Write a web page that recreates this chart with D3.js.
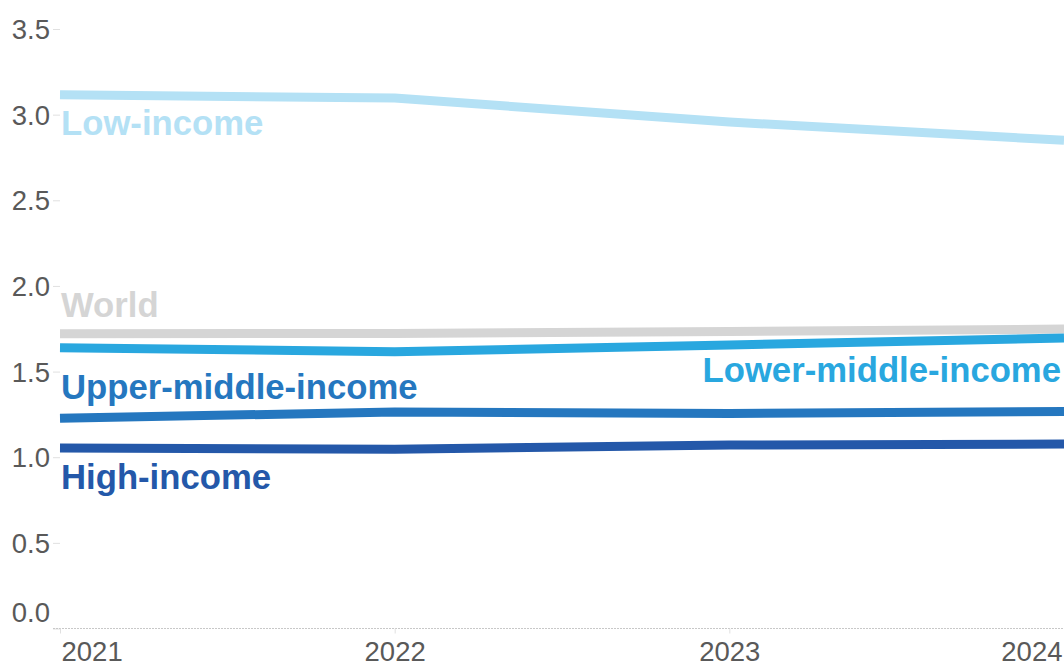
<!DOCTYPE html>
<html>
<head>
<meta charset="utf-8">
<script src="https://cdn.jsdelivr.net/npm/d3@7"></script>
<style>
  html, body { margin: 0; padding: 0; background: #fff; }
  svg { display: block; font-family: "Liberation Sans", Arial, sans-serif; }
</style>
</head>
<body>
<svg id="chart" width="1064" height="666"></svg>
<script>
// Years on the x axis
const years = [2021, 2022, 2023, 2024];

// Series values by income group
const lowIncome = [3.116, 3.097, 2.957, 2.850];
const world = [1.721, 1.722, 1.734, 1.748];
const lowerMiddle = [1.639, 1.616, 1.655, 1.696];
const upperMiddle = [1.227, 1.264, 1.255, 1.267];
const highIncome = [1.054, 1.047, 1.071, 1.077];

// Y axis tick values
const yTicks = [0, 0.5, 1.0, 1.5, 2.0, 2.5, 3.0, 3.5];

const series = [
  { name: "World", values: world, color: "#d5d5d5" },
  { name: "Low-income", values: lowIncome, color: "#b4e1f5" },
  { name: "Lower-middle-income", values: lowerMiddle, color: "#29a7df" },
  { name: "Upper-middle-income", values: upperMiddle, color: "#2577bf" },
  { name: "High-income", values: highIncome, color: "#2458a9" }
];

const svg = d3.select("#chart");
const x = d3.scaleLinear().domain([2021, 2024]).range([60, 1064]);
const y = d3.scaleLinear().domain([0, 3.5]).range([628.5, 29]);

const tickFont = 27.5;

// Y axis: short light ticks with grey labels
const yAxis = svg.append("g").attr("transform", "translate(60,0)")
  .call(d3.axisLeft(y).tickValues(yTicks).tickFormat(d3.format(".1f")).tickSize(7).tickPadding(3));
yAxis.select(".domain").remove();
yAxis.selectAll(".tick line").attr("stroke", "#e0e0e0");
yAxis.selectAll(".tick text")
  .attr("fill", "#595959").attr("font-size", tickFont)
  .attr("font-family", "Liberation Sans, Arial, sans-serif")
  .attr("dy", d => d === 0 ? "-0.27em" : "0.35em");

// X axis: dotted baseline with small ticks
svg.append("line")
  .attr("x1", 53).attr("x2", 1064)
  .attr("y1", y(0)).attr("y2", y(0))
  .attr("stroke", "#c8c8c8").attr("stroke-width", 1)
  .attr("stroke-dasharray", "2,1");

const xAxis = svg.append("g").attr("transform", `translate(0,${y(0)})`)
  .call(d3.axisBottom(x).tickValues(years).tickFormat(d3.format("d")).tickSize(5).tickPadding(8));
xAxis.select(".domain").remove();
xAxis.selectAll(".tick line").attr("stroke", "#e0e0e0");
xAxis.selectAll(".tick text")
  .attr("fill", "#595959").attr("font-size", tickFont)
  .attr("font-family", "Liberation Sans, Arial, sans-serif")
  .attr("text-anchor", (d, i) => i === 0 ? "start" : (i === years.length - 1 ? "end" : "middle"))
  .attr("dx", (d, i) => i === 0 ? 1 : (i === years.length - 1 ? -2 : 0));

// Lines (straight segments between yearly points)
const line = d3.line()
  .x((d, i) => x(years[i]))
  .y(d => y(d))
  .curve(d3.curveLinear);

svg.append("g").selectAll("path")
  .data(series)
  .join("path")
  .attr("d", d => line(d.values))
  .attr("fill", "none")
  .attr("stroke", d => d.color)
  .attr("stroke-width", 9)
  .attr("stroke-linejoin", "round");

// Direct labels next to each line
const labels = [
  { name: "Low-income", idx: 0, dy: 40, anchor: "start", dx: 1 },
  { name: "World", idx: 0, dy: -17, anchor: "start", dx: 1 },
  { name: "Upper-middle-income", idx: 0, dy: -19, anchor: "start", dx: 1 },
  { name: "High-income", idx: 0, dy: 41, anchor: "start", dx: 1 },
  { name: "Lower-middle-income", idx: 3, dy: 44, anchor: "end", dx: -3 }
];

svg.append("g").selectAll("text")
  .data(labels)
  .join("text")
  .attr("x", d => x(years[d.idx]) + d.dx)
  .attr("y", d => y(series.find(s => s.name === d.name).values[d.idx]) + d.dy)
  .attr("text-anchor", d => d.anchor)
  .attr("font-size", 34.7)
  .attr("font-weight", "bold")
  .attr("fill", d => series.find(s => s.name === d.name).color)
  .text(d => d.name);
</script>
</body>
</html>
